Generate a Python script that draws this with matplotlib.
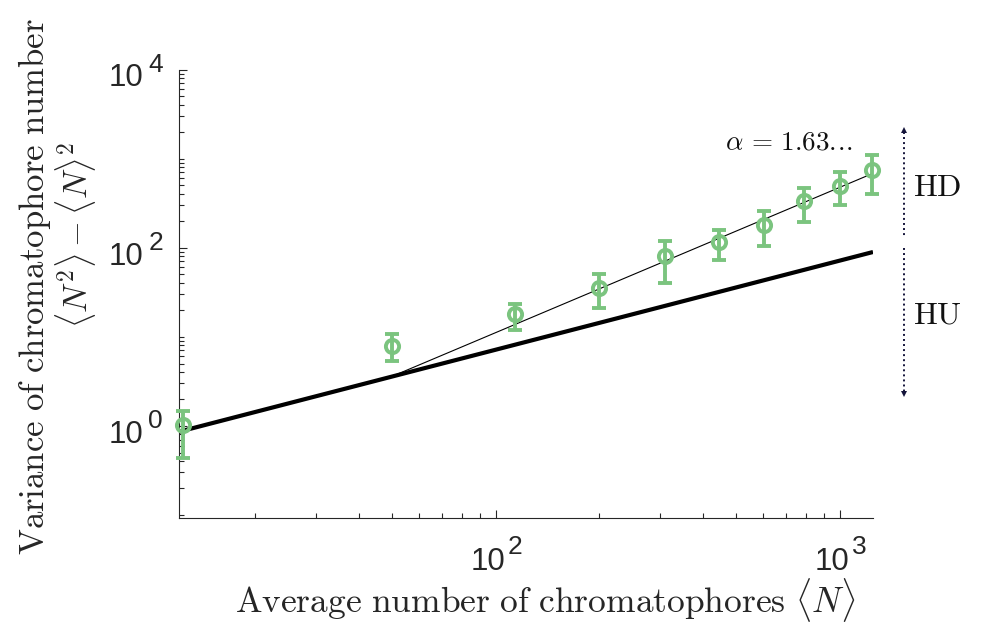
import matplotlib
matplotlib.use("Agg")
import matplotlib.pyplot as plt
from matplotlib.ticker import FixedLocator, NullFormatter
from matplotlib.lines import Line2D
import matplotlib.transforms as mtransforms
import numpy as np

# ---- data ----
N_mean = [12.3, 50, 113.5, 200, 311, 446, 603, 788, 1000, 1242]
var_mean = [1.03, 7.8, 18.1, 35.3, 79.8, 115, 180, 331, 497, 739]
var_hi = [1.47, 10.8, 23.5, 51.0, 117.7, 159, 256, 469, 702, 1089]
var_lo = [0.44, 5.4, 11.8, 21.2, 40.1, 73.3, 103.5, 192, 304, 401]

poisson_x = [12, 1250]
poisson_y = [0.857, 89.3]

fit_x = [50, 1250]
fit_y = [3.59, 683]
alpha_label = r"$\alpha \,=\, 1.63.\!.\!.$"

xmaj = [1e2, 1e3]
ymaj = [1e0, 1e2, 1e4]

green = "#7bc47f"
tc = "#262626"

plt.rcParams["font.family"] = ["Liberation Sans", "DejaVu Sans"]

W, H = 981, 624
fig = plt.figure(figsize=(W / 100, H / 100), dpi=100)
ax = fig.add_axes([179 / W, 1 - 517.5 / H, (873 - 179) / W, (517.5 - 69.5) / H])

ax.set_xscale("log")
ax.set_yscale("log")
ax.set_xlim(12, 1250)
ax.set_ylim(10 ** -1.03, 1e4)

ax.plot(poisson_x, poisson_y, color="black", lw=3.0, solid_capstyle="butt", zorder=2)
ax.plot(fit_x, fit_y, color="black", lw=0.8, zorder=2)

yerr = [np.array(var_mean) - np.array(var_lo), np.array(var_hi) - np.array(var_mean)]
ax.errorbar(N_mean, var_mean, yerr=yerr, fmt="o", mfc="none", mec=green, color=green,
            ms=9.5, mew=2.8, elinewidth=2.8, capsize=5, capthick=2.8, zorder=3, clip_on=False)

# ticks
ax.xaxis.set_major_locator(FixedLocator(xmaj))
ax.yaxis.set_major_locator(FixedLocator(ymaj))
xmin = [k * 10 ** e for e in [1, 2] for k in range(2, 10)]
ymin = [k * 10 ** e for e in [-1, 0, 1, 2, 3] for k in range(1, 10) if not (k == 1 and e in (0, 2))]
ax.xaxis.set_minor_locator(FixedLocator(xmin))
ax.yaxis.set_minor_locator(FixedLocator(ymin))
for a in (ax.xaxis, ax.yaxis):
    a.set_major_formatter(NullFormatter())
    a.set_minor_formatter(NullFormatter())
ax.tick_params(which="both", direction="in", color=tc, width=0.8)
ax.tick_params(which="major", length=6)
ax.tick_params(which="minor", length=3.5)

# MATLAB-style tick labels: "10" with a large superscript exponent
def px(dx, dy, base):
    return mtransforms.offset_copy(base, fig=fig, x=dx * 0.72, y=dy * 0.72, units="points")

tx = ax.get_xaxis_transform()
for v in xmaj:
    e = int(round(np.log10(v)))
    ax.text(v, 0, "10", transform=px(10, -52, tx), ha="right", va="baseline",
            fontsize=22.5, color=tc)
    ax.text(v, 0, str(e), transform=px(12, -36, tx), ha="left", va="baseline",
            fontsize=19, color=tc)
ty = ax.get_yaxis_transform()
for v in ymaj:
    e = int(round(np.log10(v)))
    ax.text(0, v, "10", transform=px(-36, -17, ty), ha="right", va="baseline",
            fontsize=22.5, color=tc)
    ax.text(0, v, str(e), transform=px(-16, -2, ty), ha="right", va="baseline",
            fontsize=19, color=tc)

for s in ["top", "right"]:
    ax.spines[s].set_visible(False)
for s in ["left", "bottom"]:
    ax.spines[s].set_color(tc)
    ax.spines[s].set_linewidth(0.8)

# labels (LaTeX-like)
fig.text(545 / W, 1 - 600 / H, r"$\mathrm{Average\ number\ of\ chromatophores}\ \langle N\rangle$",
         ha="center", va="center", fontsize=25.5, math_fontfamily="cm", color=tc)
fig.text(35 / W, 1 - 555 / H, r"$\mathrm{Variance\ of\ chromatophore\ number}$",
         rotation=90, ha="center", va="bottom", fontsize=25, math_fontfamily="cm", color=tc)
fig.text(75 / W, 1 - 235 / H, r"$\langle N^2\rangle - \langle N\rangle^2$",
         rotation=90, ha="center", va="center", fontsize=24, math_fontfamily="cm", color=tc)

fig.text(789 / W, 1 - 143 / H, alpha_label, ha="center", va="center", fontsize=19.5,
         math_fontfamily="cm", color="#111111")
fig.text(937 / W, 1 - 188 / H, r"$\mathrm{HD}$", ha="center", va="center", fontsize=23,
         math_fontfamily="cm", color="#111111")
fig.text(937 / W, 1 - 316 / H, r"$\mathrm{HU}$", ha="center", va="center", fontsize=23,
         math_fontfamily="cm", color="#111111")

# dotted arrows
ac = "#14143a"
xa = 904 / W
fig.add_artist(Line2D([xa, xa], [1 - 132 / H, 1 - 236 / H], transform=fig.transFigure,
                      color=ac, lw=1.4, ls=(0, (1, 1.6))))
fig.add_artist(Line2D([xa, xa], [1 - 248 / H, 1 - 392 / H], transform=fig.transFigure,
                      color=ac, lw=1.4, ls=(0, (1, 1.6))))
fig.add_artist(Line2D([xa], [1 - 130 / H], transform=fig.transFigure, marker="^",
                      ms=5, color=ac, mew=0))
fig.add_artist(Line2D([xa], [1 - 394 / H], transform=fig.transFigure, marker="v",
                      ms=5, color=ac, mew=0))

fig.savefig("out.png", dpi=100)
